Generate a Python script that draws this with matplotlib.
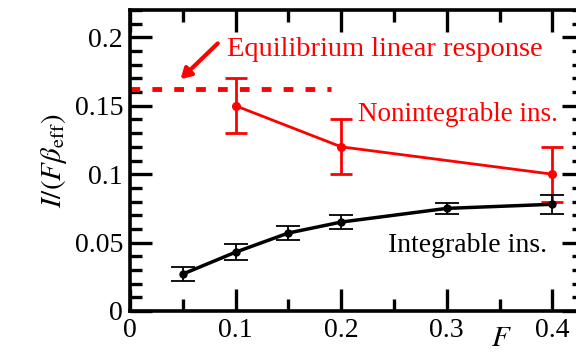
import matplotlib
matplotlib.use("Agg")
from matplotlib import pyplot as plt
from matplotlib.ticker import MultipleLocator

# integrable instability (black)
F_int = [0.05, 0.1, 0.15, 0.2, 0.3, 0.4]
I_int = [0.027, 0.043, 0.057, 0.065, 0.075, 0.078]
err_int = [0.005, 0.006, 0.005, 0.005, 0.004, 0.007]

# nonintegrable instability (red)
F_non = [0.1, 0.2, 0.4]
I_non = [0.150, 0.120, 0.100]
err_non = [0.020, 0.020, 0.020]

# equilibrium linear response level
eq_F = [0.0, 0.19]
eq_level = 0.162

plt.rcParams['font.family'] = ['Liberation Serif', 'DejaVu Serif']
plt.rcParams['mathtext.fontset'] = 'stix'

fig = plt.figure(figsize=(5.76, 3.54), dpi=100)
ax = fig.add_axes([130/576, 43/354, 454/576, 301/354])

ax.errorbar(F_non, I_non, yerr=err_non, color='red', lw=2, marker='o', ms=5.5,
            capsize=8, capthick=2, elinewidth=2, zorder=3)
ax.errorbar(F_int, I_int, yerr=err_int, color='black', lw=2.5, marker='o', ms=5,
            capsize=8.5, capthick=1.3, elinewidth=1.3, zorder=4)
ax.plot(eq_F, [eq_level, eq_level], color='red', lw=3.5, ls=(0, (2, 2.5)))

ax.annotate('', xy=(0.046, 0.168), xytext=(0.085, 0.197),
            arrowprops=dict(arrowstyle='-|>,head_length=0.6,head_width=0.35',
                            color='red', lw=3))
ax.text(0.092, 0.191, 'Equilibrium linear response', color='red', fontsize=20.5,
        va='center', ha='left')
ax.text(0.405, 0.1436, 'Nonintegrable ins.', color='red', fontsize=19.5,
        va='center', ha='right')
ax.text(0.395, 0.048, 'Integrable ins.', color='black', fontsize=20,
        va='center', ha='right')

ax.set_xlim(0, 0.43)
ax.set_ylim(0, 0.22)
ax.set_xticks([0, 0.1, 0.2, 0.3, 0.4])
ax.set_xticklabels(['0', '0.1', '0.2', '0.3', '0.4'])
ax.set_yticks([0, 0.05, 0.1, 0.15, 0.2])
ax.set_yticklabels(['0', '0.05', '0.1', '0.15', '0.2'])
ax.xaxis.set_minor_locator(MultipleLocator(0.05))
ax.yaxis.set_minor_locator(MultipleLocator(0.01))
ax.tick_params(which='both', direction='in', top=True, right=True, labelsize=20, width=2.4)
ax.tick_params(which='major', length=16, pad=5)
ax.tick_params(which='minor', length=8.5)
for s in ax.spines.values():
    s.set_linewidth(2.6)

ax.set_ylabel(r'$I/(F\beta_{\rm eff})$', fontsize=21)
ax.set_xlabel(r'$F$', fontsize=21)
ax.xaxis.set_label_coords(0.817, -0.05)

fig.savefig('out.png', dpi=100)
